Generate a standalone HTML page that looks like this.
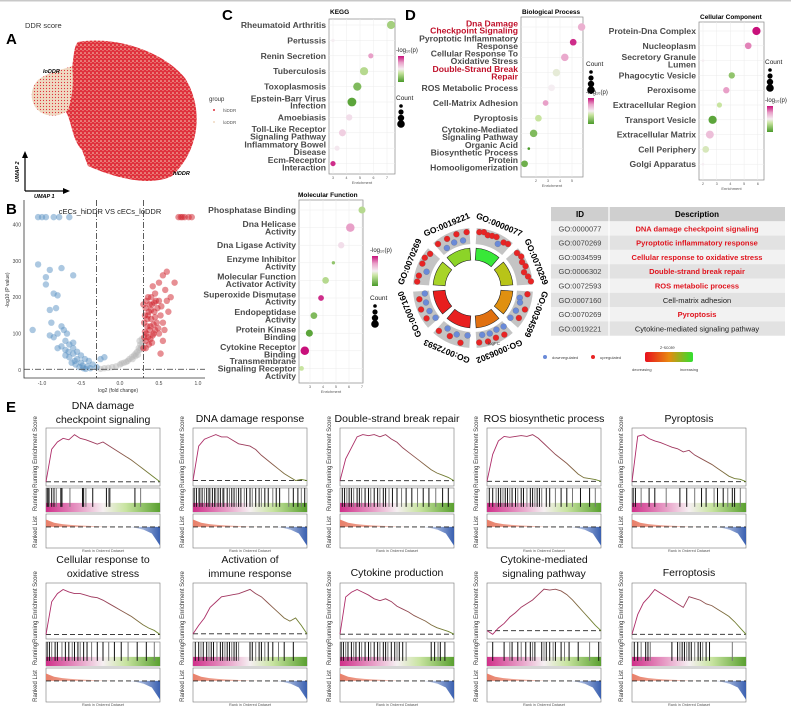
<!DOCTYPE html>
<html><head><meta charset="utf-8"><style>
html,body{margin:0;padding:0;background:#fff;}
svg{display:block;font-family:"Liberation Sans",Arial,sans-serif;}
</style></head><body>
<svg id="fig" width="791" height="715" viewBox="0 0 791 715" xmlns="http://www.w3.org/2000/svg">
<defs>
<pattern id="umapRed" width="4" height="4" patternUnits="userSpaceOnUse"><rect width="4" height="4" fill="#e0303c"/><circle cx="1" cy="1" r="0.8" fill="#f2d4bc"/><circle cx="3" cy="2.6" r="0.5" fill="#f2d4bc"/></pattern>
<pattern id="umapBeige" width="3" height="3" patternUnits="userSpaceOnUse"><rect width="3" height="3" fill="#efd9c2"/><circle cx="1.5" cy="1.5" r="0.6" fill="#e0303c"/></pattern>
<linearGradient id="gLogp" x1="0" y1="1" x2="0" y2="0"><stop offset="0" stop-color="#4a9a2a"/><stop offset="0.35" stop-color="#c8e4a0"/><stop offset="0.5" stop-color="#f5eef2"/><stop offset="0.75" stop-color="#e8a0c8"/><stop offset="1" stop-color="#c8107a"/></linearGradient>
<linearGradient id="gZ" x1="0" y1="0" x2="1" y2="0"><stop offset="0" stop-color="#e8101e"/><stop offset="0.5" stop-color="#e88a10"/><stop offset="1" stop-color="#30e030"/></linearGradient>
<linearGradient id="gES" x1="0" y1="0" x2="1" y2="0"><stop offset="0" stop-color="#b02a6a"/><stop offset="0.5" stop-color="#9a3c5a"/><stop offset="1" stop-color="#6a8a2a"/></linearGradient>
<linearGradient id="gBar" x1="0" y1="0" x2="1" y2="0"><stop offset="0" stop-color="#d0308a"/><stop offset="0.3" stop-color="#e8a0c8"/><stop offset="0.5" stop-color="#f6f0f2"/><stop offset="0.7" stop-color="#c8e4a0"/><stop offset="1" stop-color="#5aa030"/></linearGradient>
<linearGradient id="gRed" x1="0" y1="0" x2="1" y2="0"><stop offset="0" stop-color="#e8806a"/><stop offset="1" stop-color="#fbe8e2"/></linearGradient>
<linearGradient id="gBlue" x1="0" y1="0" x2="1" y2="0"><stop offset="0" stop-color="#eef2fa"/><stop offset="1" stop-color="#3a60b0"/></linearGradient>
</defs>
<rect x="0" y="0" width="791" height="1.5" fill="#c8c8c8"/>
<!-- Panel A -->
<text x="6" y="44" font-size="15" font-weight="bold">A</text>
<text x="25" y="28" font-size="7.5" fill="#333">DDR score</text>
<path d="M78,42 C110,36 160,48 185,78 C204,108 200,150 172,176 C152,186 120,180 88,166 L82,150 C72,140 72,122 66,112 C70,100 72,80 72,68 C74,55 74,46 78,42 Z" fill="url(#umapRed)"/>
<path d="M72,66 C62,70 48,72 38,80 C28,90 30,108 44,114 C55,118 64,114 68,110 C72,100 74,82 72,66 Z" fill="url(#umapBeige)"/>
<text x="43" y="73" font-size="5.5" font-style="italic" font-weight="bold">loDDR</text>
<text x="173" y="175" font-size="5.5" font-style="italic" font-weight="bold">hiDDR</text>
<text x="209" y="101" font-size="6" fill="#333">group</text>
<circle cx="214" cy="110" r="1" fill="#e0303c"/>
<text x="223" y="112" font-size="4.5" fill="#555">hiDDR</text>
<circle cx="214" cy="122" r="1" fill="#efd9c2"/>
<text x="223" y="124" font-size="4.5" fill="#555">loDDR</text>
<g stroke="#000" stroke-width="1.2" fill="none">
<path d="M25,191 L25,156"/><path d="M25,191 L65,191"/>
</g>
<path d="M22,158 L25,151 L28,158 Z M63,188 L70,191 L63,194 Z" fill="#000"/>
<text transform="translate(19,182) rotate(-90)" font-size="5.5" font-style="italic" font-weight="bold">UMAP 2</text>
<text x="34" y="198" font-size="5.5" font-style="italic" font-weight="bold">UMAP 1</text>
<!-- Panel B -->
<text x="6" y="214" font-size="15" font-weight="bold">B</text>
<text x="110" y="214" font-size="7.5" text-anchor="middle" fill="#222">cECs_hiDDR  VS  cECs_loDDR</text>
<g id="volcano"></g>
<!-- Panel C -->
<text x="222" y="20" font-size="15" font-weight="bold">C</text>
<g id="dots"></g>
<!-- Panel D -->
<text x="405" y="20" font-size="15" font-weight="bold">D</text>
<g id="gocircle"></g>
<g id="gotable"></g>
<!-- Panel E -->
<text x="6" y="412" font-size="15" font-weight="bold">E</text>
<g id="gsea"></g>
</svg>
<script>
// ---------- DATA ----------
const volcanoXTicks = [-1.0, -0.5, 0.0, 0.5, 1.0];
const volcanoYTicks = [0, 100, 200, 300, 400];
const blueFC = [-1.05,-0.95,-0.9,-0.75,-0.6,-0.95,-0.85,-0.8,-1.12,-0.9,-0.88,-0.82,-0.75,-0.72,-0.68,-0.8,-0.85,-0.7,-0.65,-0.6,-0.55,-0.7,-0.75,-0.5,-0.45,-0.4,-0.35,-0.3,-0.55,-0.6,-0.65,-0.5,-0.42,-0.38,-0.7,-0.8,-0.6,-0.9,-0.66,-0.58,-0.48,-0.2,-0.25,-0.62,-0.57,-0.52,-0.47,-0.44,-1.0,-0.95,-0.85,-0.78,-0.65,-1.05];
const blueP = [290,255,275,280,260,235,210,205,110,165,130,170,120,110,100,100,90,80,70,60,50,55,65,40,30,25,15,8,30,45,35,20,10,5,40,60,75,95,50,25,12,35,30,20,15,8,5,3,420,420,420,420,420,420];
const redFC = [0.35,0.32,0.38,0.4,0.45,0.5,0.55,0.6,0.42,0.48,0.52,0.55,0.6,0.65,0.58,0.7,0.45,0.5,0.55,0.52,0.33,0.3,0.36,0.4,0.44,0.47,0.34,0.38,0.42,0.31,0.37,0.5,0.46,0.53,0.33,0.4,0.43,0.49,0.36,0.62,0.57,0.35,0.39,0.41,0.32,0.45,0.34,0.37,0.41,0.44,0.31,0.33,0.39,0.43,0.36,0.3,0.75,0.78,0.8,0.83,0.88,0.92];
const redP = [120,150,180,200,210,240,260,270,230,170,150,130,190,200,220,240,110,100,80,45,80,60,90,140,160,130,100,110,95,130,70,190,190,175,170,165,125,115,200,160,110,140,85,75,105,145,190,160,180,185,90,60,120,100,150,180,420,420,420,420,420,420];
const grayFC = [-0.2,-0.1,0,0.05,0.1,0.15,0.2,0.25,0.28,0.22,0.18,0.12,0.08,0.02,-0.05,-0.15,0.26,0.24,0.29,0.27,0.16,0.2,0.23,-0.25,0.28,0.25];
const grayP = [5,8,15,20,25,35,45,55,65,50,40,30,22,18,10,6,70,60,75,58,30,38,42,3,85,80];

const keggTerms = ["Rheumatoid Arthritis","Pertussis","Renin Secretion","Tuberculosis","Toxoplasmosis","Epstein-Barr Virus|Infection","Amoebiasis","Toll-Like Receptor|Signaling Pathway","Inflammatory Bowel|Disease","Ecm-Receptor|Interaction"];
const keggEnrich = [7.3,3.0,5.8,5.3,4.8,4.4,4.2,3.7,3.3,3.0];
const keggCount = [30,5,12,30,30,35,18,22,12,12];
const keggLogp = [0.25,0.5,0.75,0.3,0.15,0.05,0.55,0.6,0.52,0.95];

const bpTerms = ["Dna Damage|Checkpoint Signaling","Pyroptotic Inflammatory|Response","Cellular Response To|Oxidative Stress","Double-Strand Break|Repair","ROS Metabolic Process","Cell-Matrix Adhesion","Pyroptosis","Cytokine-Mediated|Signaling Pathway","Organic Acid|Biosynthetic Process","Protein|Homooligomerization"];
const bpEnrich = [5.8,5.1,4.4,3.7,3.3,2.8,2.2,1.8,1.4,1.05];
const bpCount = [25,20,25,25,20,15,20,25,3,20];
const bpLogp = [0.7,0.95,0.72,0.45,0.5,0.75,0.35,0.15,0.0,0.1];
const bpHighlight = [1,0,0,1,0,0,0,0,0,0];

const ccTerms = ["Protein-Dna Complex","Nucleoplasm","Secretory Granule|Lumen","Phagocytic Vesicle","Peroxisome","Extracellular Region","Transport Vesicle","Extracellular Matrix","Cell Periphery","Golgi Apparatus"];
const ccEnrich = [5.9,5.3,2.0,4.1,3.7,3.2,2.7,2.5,2.2,2.0];
const ccCount = [30,20,3,18,18,12,30,28,20,3];
const ccLogp = [1.0,0.8,0.5,0.2,0.75,0.35,0.05,0.65,0.4,0.5];

const mfTerms = ["Phosphatase Binding","Dna Helicase|Activity","Dna Ligase Activity","Enzyme Inhibitor|Activity","Molecular Function|Activator Activity","Superoxide Dismutase|Activity","Endopeptidase|Activity","Protein Kinase|Binding","Cytokine Receptor|Binding","Transmembrane|Signaling Receptor|Activity"];
const mfEnrich = [7.0,6.1,5.4,4.8,4.2,3.85,3.3,2.95,2.6,2.35];
const mfCount = [22,32,18,5,20,15,20,22,32,10];
const mfLogp = [0.3,0.75,0.55,0.2,0.3,0.95,0.15,0.05,1.0,0.35];

const goIds = ["GO:0000077","GO:0070269","GO:0034599","GO:0006302","GO:0072593","GO:0007160","GO:0070269","GO:0019221"];
const goZColors = ["#38e838","#b8c418","#e09010","#e07010","#e82020","#e81e1e","#a8d428","#8cd428"];
const goFC = [
 [0.3,0.35,0.2,0.25,0.3,-0.1,0.2,0.3],
 [0.3,0.4,0.25,0.35,0.1,0.3,0.45],
 [0.2,-0.3,-0.2,0.3,-0.25,0.2,-0.3],
 [-0.2,0.3,-0.3,0.2,-0.25,0.25,-0.3,0.2],
 [-0.3,0.3,-0.2,0.1,-0.3,0.2],
 [-0.3,0.25,-0.2,0.3,-0.2,0.2,-0.25],
 [0.3,0.25,-0.2,0.3,0.35,0.2],
 [0.3,-0.3,0.25,-0.2,0.3,-0.25,0.3]
];
const tableIds = ["GO:0000077","GO:0070269","GO:0034599","GO:0006302","GO:0072593","GO:0007160","GO:0070269","GO:0019221"];
const tableDesc = ["DNA damage checkpoint signaling","Pyroptotic inflammatory response","Cellular response to oxidative stress","Double-strand break repair","ROS metabolic process","Cell-matrix adhesion","Pyroptosis","Cytokine-mediated signaling pathway"];
const tableHighlight = [1,1,1,1,1,0,1,0];

const gseaTitles = ["DNA damage|checkpoint signaling","DNA damage response","Double-strand break repair","ROS biosynthetic process","Pyroptosis","Cellular response to|oxidative stress","Activation of|immune response","Cytokine production","Cytokine-mediated|signaling pathway","Ferroptosis"];
const gseaES = [
 [0,0.45,0.55,0.6,0.58,0.65,0.6,0.58,0.55,0.52,0.55,0.5,0.45,0.4,0.35,0.3,0.24,0.18,0.12,0.06,0],
 [0,0.3,0.36,0.38,0.4,0.38,0.38,0.35,0.32,0.31,0.3,0.27,0.22,0.18,0.14,0.1,0.06,0.03,0,0.01,0],
 [0,0.2,0.3,0.4,0.42,0.41,0.42,0.4,0.42,0.38,0.35,0.3,0.26,0.22,0.18,0.14,0.1,0.07,0.05,0.03,0],
 [0,0.3,0.45,0.5,0.49,0.5,0.51,0.5,0.52,0.48,0.42,0.36,0.3,0.25,0.2,0.14,0.08,0.04,0.03,0.02,0],
 [0,0.58,0.6,0.55,0.52,0.5,0.47,0.44,0.42,0.38,0.4,0.34,0.3,0.26,0.22,0.17,0.12,0.07,0.04,0.03,0],
 [0,0.4,0.5,0.55,0.52,0.5,0.5,0.48,0.46,0.45,0.42,0.38,0.34,0.3,0.26,0.22,0.17,0.12,0.08,0.05,0],
 [0,0.08,0.15,0.25,0.3,0.35,0.36,0.37,0.38,0.4,0.42,0.38,0.35,0.3,0.25,0.2,0.15,0.12,0.15,0.08,0],
 [0,0.4,0.45,0.48,0.45,0.42,0.38,0.36,0.38,0.35,0.3,0.27,0.24,0.2,0.17,0.14,0.1,0.07,0.05,0.03,0],
 [0,-0.04,0.03,0.08,0.15,0.2,0.26,0.3,0.34,0.4,0.46,0.45,0.46,0.44,0.4,0.34,0.27,0.2,0.13,0.06,0],
 [0,0.22,0.35,0.42,0.5,0.46,0.42,0.38,0.34,0.3,0.42,0.4,0.38,0.34,0.32,0.28,0.24,0.2,0.14,0.07,0]
];
const gseaHits = [
 [0.01,0.02,0.03,0.05,0.07,0.09,0.13,0.14,0.21,0.32,0.33,0.35,0.41,0.53,0.55,0.56,0.78,0.83],
 [0.01,0.03,0.05,0.06,0.08,0.1,0.12,0.14,0.15,0.17,0.19,0.2,0.22,0.24,0.26,0.27,0.3,0.32,0.34,0.36,0.38,0.4,0.42,0.45,0.47,0.5,0.52,0.55,0.58,0.6,0.63,0.66,0.7,0.73,0.76,0.84,0.88,0.92,0.95,0.98],
 [0.02,0.04,0.06,0.08,0.1,0.12,0.15,0.17,0.19,0.22,0.25,0.27,0.3,0.33,0.35,0.38,0.4,0.43,0.46,0.5,0.54,0.58,0.63,0.68,0.73,0.78,0.84,0.9,0.95],
 [0.02,0.05,0.08,0.1,0.12,0.14,0.16,0.18,0.2,0.22,0.25,0.27,0.3,0.32,0.35,0.38,0.4,0.42,0.44,0.46,0.48,0.52,0.55,0.6,0.65,0.7,0.75,0.82,0.9,0.95],
 [0.01,0.03,0.08,0.15,0.2,0.3,0.42,0.48,0.55,0.61,0.65,0.72,0.75,0.8,0.84,0.88,0.9,0.95],
 [0.01,0.03,0.05,0.08,0.1,0.14,0.17,0.2,0.23,0.25,0.28,0.3,0.33,0.36,0.4,0.45,0.5,0.55,0.6,0.66,0.72,0.8,0.88,0.95],
 [0.02,0.05,0.07,0.09,0.12,0.14,0.16,0.18,0.21,0.24,0.26,0.28,0.3,0.32,0.34,0.36,0.38,0.4,0.5,0.52,0.55,0.58,0.6,0.63,0.66,0.7,0.75,0.8,0.88],
 [0.01,0.03,0.05,0.07,0.1,0.12,0.14,0.17,0.19,0.22,0.25,0.27,0.3,0.33,0.35,0.38,0.4,0.42,0.45,0.48,0.5,0.52,0.55,0.58,0.8,0.83,0.86,0.88,0.92],
 [0.05,0.15,0.2,0.22,0.27,0.3,0.34,0.38,0.4,0.42,0.48,0.5,0.52,0.55,0.58,0.6,0.65,0.68,0.72,0.8,0.9,0.98],
 [0.02,0.05,0.08,0.12,0.14,0.16,0.35,0.4,0.42,0.44,0.46,0.48,0.5,0.52,0.55,0.58,0.6,0.62,0.65,0.68,0.88]
];
const rankedVals = [0.8,0.45,0.3,0.22,0.16,0.12,0.08,0.05,0.03,0.01,0,-0.05,-0.15,-0.35,-1.0];

// ---------- HELPERS ----------
const NS = 'http://www.w3.org/2000/svg';
function mk(tag, attrs, parent) { const e = document.createElementNS(NS, tag); for (const k in attrs) e.setAttribute(k, attrs[k]); parent.appendChild(e); return e; }
function lerpC(a, b, t) { const pa=[1,3,5].map(i=>parseInt(a.substr(i,2),16)), pb=[1,3,5].map(i=>parseInt(b.substr(i,2),16)); return 'rgb('+pa.map((v,i)=>Math.round(v+(pb[i]-v)*t)).join(',')+')'; }
const stopsC = [[0,'#4a9a2a'],[0.35,'#c8e4a0'],[0.5,'#f5eef2'],[0.75,'#e8a0c8'],[1,'#c8107a']];
function logpColor(t) { for (let i=1;i<stopsC.length;i++){ if (t<=stopsC[i][0]) { const a=stopsC[i-1], b=stopsC[i]; return lerpC(a[1], b[1], (t-a[0])/(b[0]-a[0])); } } return stopsC[4][1]; }

// ---------- VOLCANO ----------
(function(){
 const g = document.getElementById('volcano');
 const xs = v => 120 + 78*v, ys = p => 370 - 0.364*p;
 let el = mk('path', {d:'M24,200 L24,378 L205,378', stroke:'#333', fill:'none', 'stroke-width':0.8}, g);
 
 
 volcanoYTicks.forEach(t => {
  el = mk('text', {x:21, y:ys(t)+2, 'font-size':5, 'text-anchor':'end', fill:'#444'}, g); el.textContent = t;
  
  
 });
 volcanoXTicks.forEach(t => {
  el = mk('text', {x:xs(t), y:385, 'font-size':5, 'text-anchor':'middle', fill:'#444'}, g); el.textContent = t.toFixed(1);
  
  
 });
 el = mk('text', {x:118, y:392, 'font-size':5, 'text-anchor':'middle', fill:'#333'}, g); el.textContent = 'log2 (fold change)';
 
 
 el = mk('text', {transform:'translate(9,290) rotate(-90)', 'font-size':5, 'text-anchor':'middle', fill:'#333'}, g); el.textContent = '-log10 (P value)';
 
 
 function pts(fc, p, col, name) {
  fc.forEach((v,i) => {
   const c = mk('circle', {cx:xs(v), cy:ys(p[i]), r:3.2, fill:col, 'fill-opacity':0.5}, g);
   
   
  });
 }
 pts(grayFC, grayP, '#b8b8b8', 'volcano-point-ns');
 pts(blueFC, blueP, '#5a92c4', 'volcano-point-down');
 pts(redFC, redP, '#d0202a', 'volcano-point-up');
 [-0.3, 0.3].forEach(v => {
  el = mk('line', {x1:xs(v), x2:xs(v), y1:200, y2:378, stroke:'#333', 'stroke-width':0.8, 'stroke-dasharray':'6 2 1 2'}, g);
  
  
 });
 el = mk('line', {x1:24, x2:205, y1:ys(2), y2:ys(2), stroke:'#333', 'stroke-width':0.8, 'stroke-dasharray':'6 2 1 2'}, g);
 
 
})();

// ---------- DOT PLOTS ----------
function dotPlot(cfg) {
 const g = mk('g', {}, document.getElementById('dots'));
 
 
 const xs = e => cfg.x0 + (e - cfg.emin)*cfg.k;
 let el = mk('rect', {x:cfg.bx, y:cfg.by, width:cfg.bw, height:cfg.bh, fill:'#fff', stroke:'#888', 'stroke-width':0.7}, g);
 
 
 cfg.ticks.forEach(t => {
  el = mk('line', {x1:xs(t), x2:xs(t), y1:cfg.by, y2:cfg.by+cfg.bh, stroke:'#ececec', 'stroke-width':0.5}, g);
  
  
  el = mk('text', {x:xs(t), y:cfg.by+cfg.bh+5, 'font-size':3.5, 'text-anchor':'middle', fill:'#555'}, g); el.textContent = t;
  
  
 });
 el = mk('text', {x:cfg.bx+cfg.bw/2, y:cfg.by+cfg.bh+10, 'font-size':4, 'text-anchor':'middle', fill:'#555'}, g); el.textContent = 'Enrichment';
 
 
 el = mk('text', {x:cfg.tx, y:cfg.ty, 'font-size':6.5, 'font-weight':'bold', 'text-anchor':cfg.tanchor||'start'}, g); el.textContent = cfg.title;
 
 
 cfg.terms.forEach((term, i) => {
  const y = cfg.y0 + i*cfg.step;
  el = mk('line', {x1:cfg.bx, x2:cfg.bx+cfg.bw, y1:y, y2:y, stroke:'#ececec', 'stroke-width':0.5}, g);
  
  
  const lines = term.split('|');
  const lh = 7.4;
  const t = mk('text', {x:cfg.bx-3, y:y - (lines.length-1)*lh/2 + 3, 'font-size':8.6, 'font-weight':'bold', 'text-anchor':'end', fill:(cfg.hl && cfg.hl[i]) ? '#c0102a' : '#4a4a4a'}, g);
  
  
  lines.forEach((ln, j) => { const s = mk('tspan', {x:cfg.bx-3, dy: j===0?0:lh}, t); s.textContent = ln; });
  el = mk('circle', {cx:xs(cfg.enrich[i]), cy:y, r:0.75*Math.sqrt(cfg.count[i]), fill:logpColor(cfg.logp[i])}, g);
  
  
 });
 const L = cfg.leg;
 if (L) {
  el = mk('text', {x:L.x, y:L.py, 'font-size':6, fill:'#222'}, g); el.textContent = '-log₁₀(p)';
  
  
  el = mk('rect', {x:L.x+2, y:L.py+4, width:6, height:L.gh, fill:'url(#gLogp)'}, g);
  
  
  el = mk('text', {x:L.x, y:L.cy, 'font-size':6.5, fill:'#222'}, g); el.textContent = 'Count';
  
  
  [1.8,2.6,3.2,3.8].forEach((r, j) => {
   el = mk('circle', {cx:L.x+5, cy:L.cy+6+j*6, r:r, fill:'#000'}, g);
   
   
  });
 }
}
dotPlot({name:'kegg-dotplot', title:'KEGG', tx:330, ty:14, terms:keggTerms, enrich:keggEnrich, count:keggCount, logp:keggLogp, bx:329, by:19, bw:66, bh:155, x0:333, emin:3, k:13.5, ticks:[3,4,5,6,7], y0:25, step:15.4, leg:{x:396, py:52, gh:26, cy:100}});
dotPlot({name:'bp-dotplot', title:'Biological Process', tx:522, ty:14, terms:bpTerms, enrich:bpEnrich, count:bpCount, logp:bpLogp, hl:bpHighlight, bx:521, by:17, bw:62, bh:160, x0:524, emin:1, k:12, ticks:[2,3,4,5], y0:27, step:15.2, leg:{x:586, py:94, gh:26, cy:66}});
dotPlot({name:'cc-dotplot', title:'Cellular Component', tx:700, ty:19, terms:ccTerms, enrich:ccEnrich, count:ccCount, logp:ccLogp, bx:699, by:22, bw:65, bh:158, x0:703, emin:2, k:13.7, ticks:[2,3,4,5,6], y0:31, step:14.8, leg:{x:765, py:102, gh:26, cy:64}});
dotPlot({name:'mf-dotplot', title:'Molecular Function', tx:298, ty:197, terms:mfTerms, enrich:mfEnrich, count:mfCount, logp:mfLogp, bx:299, by:200, bw:64, bh:183, x0:310, emin:3, k:13, ticks:[3,4,5,6,7], y0:210, step:17.6, leg:{x:370, py:252, gh:30, cy:300}});

// ---------- GO CIRCLE ----------
(function(){
 const g = document.getElementById('gocircle');
 const cx = 473, cy = 288;
 function arc(r0, r1, a0, a1) {
  const p = (r,a) => [cx + r*Math.cos(a*Math.PI/180), cy + r*Math.sin(a*Math.PI/180)];
  const A=p(r1,a0), B=p(r1,a1), C=p(r0,a1), D=p(r0,a0);
  return `M${A} A${r1},${r1} 0 0 1 ${B} L${C} A${r0},${r0} 0 0 0 ${D} Z`;
 }
 goIds.forEach((id, i) => {
  const mid = -67.5 + 45*i, a0 = mid - 19, a1 = mid + 19;
  let el = mk('path', {d:arc(44, 60, a0, a1), fill:'#c4c4c4'}, g);
  
  
  el = mk('path', {d:arc(28, 40, a0+1, a1-1), fill:goZColors[i], stroke:'#222', 'stroke-width':0.6}, g);
  
  
  const fc = goFC[i];
  fc.forEach((v, j) => {
   const a = (a0 + 3 + (a1 - a0 - 6)*j/(fc.length-1))*Math.PI/180, r = 52 + v*14;
   el = mk('circle', {cx:cx + r*Math.cos(a), cy:cy + r*Math.sin(a), r:3, fill: v > 0 ? '#e82424' : '#6a8ad8', stroke:'#555', 'stroke-width':0.2}, g);
   
   
  });
  const ra = mid*Math.PI/180;
  el = mk('text', {x:0, y:0, transform:`translate(${cx + 68*Math.cos(ra)},${cy + 68*Math.sin(ra)}) rotate(${mid+90})`, 'font-size':8.5, 'font-weight':'bold', 'text-anchor':'middle', 'dominant-baseline':'middle'}, g);
  el.textContent = id;
  
  
 });
 const items = [
  ['text', {x:488, y:345, 'font-size':4.5, fill:'#444'}, 'logFC', 'logfc-label'],
  ['text', {x:552, y:359, 'font-size':4, fill:'#444'}, 'downregulated', 'legend-down-label'],
  ['text', {x:600, y:359, 'font-size':4, fill:'#444'}, 'upregulated', 'legend-up-label'],
  ['text', {x:660, y:349, 'font-size':4.5, fill:'#444'}, 'z-score', 'legend-zscore-title'],
  ['text', {x:632, y:371, 'font-size':4, fill:'#444'}, 'decreasing', 'legend-decreasing'],
  ['text', {x:680, y:371, 'font-size':4, fill:'#444'}, 'increasing', 'legend-increasing']
 ];
 items.forEach(it => { const e = mk(it[0], it[1], g); e.textContent = it[2];
  
   });
 let el = mk('circle', {cx:545, cy:357, r:2, fill:'#6a8ad8'}, g);
 
 
 el = mk('circle', {cx:593, cy:357, r:2, fill:'#e82424'}, g);
 
 
 el = mk('rect', {x:645, y:352, width:48, height:10, rx:2, fill:'url(#gZ)'}, g);
 
 
})();

// ---------- GO TABLE ----------
(function(){
 const g = document.getElementById('gotable');
 const x0 = 551, xm = 609, x1 = 785, y0 = 207, rh = 14.3;
 let el = mk('rect', {x:x0, y:y0, width:x1-x0, height:rh, fill:'#cfcfcf'}, g);
 
 
 [['ID', (x0+xm)/2], ['Description', (xm+x1)/2]].forEach(h => {
  el = mk('text', {x:h[1], y:y0+10, 'font-size':8, 'font-weight':'bold', 'text-anchor':'middle'}, g); el.textContent = h[0];
  
  
 });
 tableIds.forEach((id, i) => {
  const y = y0 + rh*(i+1);
  el = mk('rect', {x:x0, y:y, width:x1-x0, height:rh, fill: i%2 ? '#e2e2e2' : '#f2f2f2'}, g);
  
  
  el = mk('text', {x:(x0+xm)/2, y:y+10, 'font-size':7.5, 'text-anchor':'middle', fill:'#444'}, g); el.textContent = id;
  
  
  el = mk('text', {x:(xm+x1)/2, y:y+10, 'font-size':7.5, 'text-anchor':'middle', 'font-weight': tableHighlight[i] ? 'bold' : 'normal', fill: tableHighlight[i] ? '#e0141e' : '#222'}, g); el.textContent = tableDesc[i];
  
  
 });
 el = mk('line', {x1:xm, x2:xm, y1:y0, y2:y0+rh*9, stroke:'#fff', 'stroke-width':1.2}, g);
 
 
})();

// ---------- GSEA ----------
(function(){
 const root = document.getElementById('gsea');
 const lefts = [46,193,340,487,632], W = 114;
 const rows = [
  {tl:[409,423], t1:422, es0:428, es1:486, h0:488, h1:512, r0:514, r1:548, lab:552},
  {tl:[563,577], t1:576, es0:583, es1:639, h0:642, h1:666, r0:668, r1:702, lab:706}
 ];
 gseaTitles.forEach((title, idx) => {
  const R = rows[Math.floor(idx/5)], L = lefts[idx%5];
  const g = mk('g', {}, root);
  
  
  const lines = title.split('|');
  lines.forEach((ln, j) => {
   const y = lines.length === 1 ? R.t1 : R.tl[j];
   const e = mk('text', {x:L+W/2, y:y, 'font-size':10.5, 'text-anchor':'middle', fill:'#111'}, g); e.textContent = ln;
   
   
  });
  [[R.es0,R.es1],[R.h0,R.h1],[R.r0,R.r1]].forEach(b => {
   const e = mk('rect', {x:L, y:b[0], width:W, height:b[1]-b[0], fill:'#fff', stroke:'#777', 'stroke-width':0.6}, g);
   
   
  });
  const es = gseaES[idx];
  const mx = Math.max(...es)*1.1, mn = Math.min(0, Math.min(...es)) - 0.03;
  const ys = v => R.es1 - 2 - (v - mn)/(mx - mn)*(R.es1 - R.es0 - 4);
  const xs = t => L + t*W;
  let e = mk('line', {x1:L, x2:L+W, y1:ys(0), y2:ys(0), stroke:'#222', 'stroke-width':0.9, 'stroke-dasharray':'5 3'}, g);
  
  
  e = mk('polyline', {points: es.map((v,i) => xs(i/(es.length-1)) + ',' + ys(v)).join(' '), fill:'none', stroke:'url(#gES)', 'stroke-width':0.9}, g);
  
  
  const hb = R.h0 + (R.h1 - R.h0)*0.62;
  e = mk('rect', {x:L, y:hb, width:W, height:R.h1-hb, fill:'url(#gBar)'}, g);
  
  
  gseaHits[idx].forEach((h, k) => {
   e = mk('line', {x1:xs(h), x2:xs(h), y1:R.h0, y2:hb+4, stroke: k%3===2 ? '#777' : '#111', 'stroke-width':1}, g);
   
   
  });
  const z = R.r0 + (R.r1 - R.r0)*0.38, sc = (R.r1 - R.r0)*0.55;
  const n = rankedVals.length;
  const posPts = [], negPts = [];
  rankedVals.forEach((v,i) => { const x = xs(i/(n-1)); if (v >= 0) posPts.push(x+','+(z - v*sc*0.5)); if (v <= 0) negPts.push(x+','+(z - v*sc)); });
  const lastPos = posPts[posPts.length-1].split(',')[0], firstNeg = negPts[0].split(',')[0];
  e = mk('polygon', {points: L+','+z+' '+posPts.join(' ')+' '+lastPos+','+z, fill:'url(#gRed)'}, g);
  
  
  e = mk('polygon', {points: firstNeg+','+z+' '+negPts.join(' ')+' '+(L+W)+','+z, fill:'url(#gBlue)'}, g);
  
  
  e = mk('line', {x1:L, x2:L+W, y1:z, y2:z, stroke:'#222', 'stroke-width':0.9, 'stroke-dasharray':'5 3'}, g);
  
  
  e = mk('text', {x:L+W/2, y:R.lab, 'font-size':3.8, 'text-anchor':'middle', fill:'#555'}, g); e.textContent = 'Rank in Ordered Dataset';
  
  
  const labs = [['Running Enrichment Score', R.es0 + 24], ['Running', R.h0 + 12], ['Ranked List', R.r0 + 18]];
  labs.forEach(lb => {
   e = mk('text', {transform:`translate(${L-9},${lb[1]}) rotate(-90)`, 'font-size':6, 'text-anchor':'middle', fill:'#333'}, g); e.textContent = lb[0];
   
   
  });
 });
})();
</script>
</body></html>
